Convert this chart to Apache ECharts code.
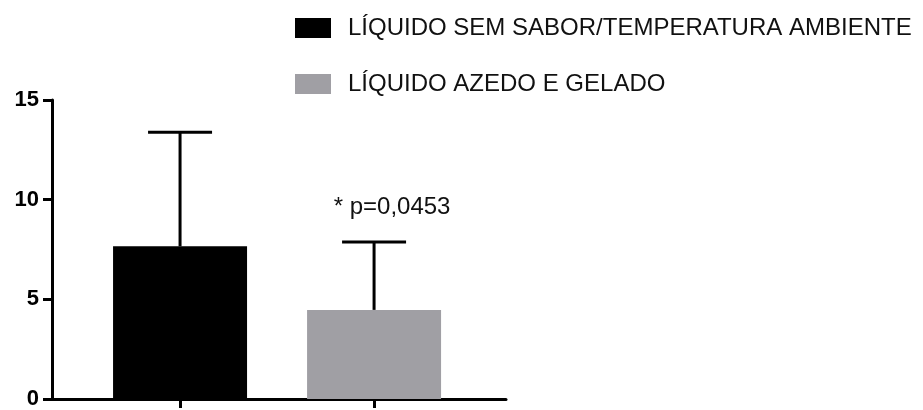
<!DOCTYPE html>
<html>
<head>
<meta charset="utf-8">
<script src="https://cdn.jsdelivr.net/npm/echarts@6/dist/echarts.min.js"></script>
<style>
html,body{margin:0;padding:0;background:#fff;}
#chart{width:923px;height:410px;}
</style>
</head>
<body>
<div id="chart"></div>
<script>
// ---- data ----
var categories = ['LÍQUIDO SEM SABOR/TEMPERATURA AMBIENTE', 'LÍQUIDO AZEDO E GELADO'];
var xPositions = [1, 2];
var means = [7.66, 4.47];
var upperErr = [13.38, 7.87];
var annotations = ['', '* p=0,0453'];
var yTicks = [0, 5, 10, 15];
var colors = ['#000000', '#a09fa4'];

var FONT = '"Liberation Sans", Arial, Helvetica, sans-serif';

var chart = echarts.init(document.getElementById('chart'), null, {renderer: 'canvas'});

var barSeries = categories.map(function (name, i) {
  return {
    name: name,
    type: 'bar',
    barWidth: 134,
    barGap: '-100%',
    itemStyle: {color: colors[i]},
    data: [[xPositions[i], means[i]]],
    z: 2
  };
});

var errData = categories.map(function (n, i) {
  return [xPositions[i], means[i], upperErr[i]];
});

var option = {
  animation: false,
  backgroundColor: '#fff',
  grid: {left: 52, right: 417, top: 100, bottom: 7, containLabel: false},
  legend: {
    orient: 'vertical',
    left: 290,
    top: 11,
    itemWidth: 36,
    itemHeight: 20,
    itemGap: 32,
    icon: 'rect',
    data: categories,
    textStyle: {fontFamily: FONT, fontSize: 24, color: '#111', padding: [0, 0, 0, 12]}
  },
  xAxis: {
    type: 'value',
    min: 0.34,
    max: 2.68,
    splitLine: {show: false},
    axisLine: {show: true, lineStyle: {color: '#000', width: 3}},
    axisTick: {show: true, customValues: xPositions, length: 9, lineStyle: {color: '#000', width: 3}},
    axisLabel: {show: false}
  },
  yAxis: {
    type: 'value',
    min: yTicks[0],
    max: yTicks[yTicks.length - 1],
    interval: yTicks[1] - yTicks[0],
    splitLine: {show: false},
    axisLine: {show: true, lineStyle: {color: '#000', width: 3}},
    axisTick: {show: true, length: 9, lineStyle: {color: '#000', width: 3}},
    axisLabel: {
      color: '#000', fontFamily: FONT, fontWeight: 'bold', fontSize: 22, margin: 13
    }
  },
  series: barSeries.concat([{
    type: 'custom',
    name: 'err',
    z: 3,
    data: errData,
    renderItem: function (params, api) {
      var x = api.value(0), m = api.value(1), u = api.value(2);
      var p0 = api.coord([x, m]);
      var p1 = api.coord([x, u]);
      var half = 32;
      var children = [
        {type: 'line', shape: {x1: p0[0], y1: p0[1], x2: p1[0], y2: p1[1]},
         style: {stroke: '#000', lineWidth: 3}},
        {type: 'line', shape: {x1: p1[0] - half, y1: p1[1], x2: p1[0] + half, y2: p1[1]},
         style: {stroke: '#000', lineWidth: 3}}
      ];
      var t = annotations[params.dataIndex];
      if (t) {
        children.push({
          type: 'text',
          style: {
            text: t, x: p1[0] + 18, y: p1[1] - 23,
            align: 'center', verticalAlign: 'bottom',
            fontFamily: FONT, fontSize: 24, fill: '#111'
          }
        });
      }
      return {type: 'group', children: children};
    }
  }])
};

chart.setOption(option);
</script>
</body>
</html>
